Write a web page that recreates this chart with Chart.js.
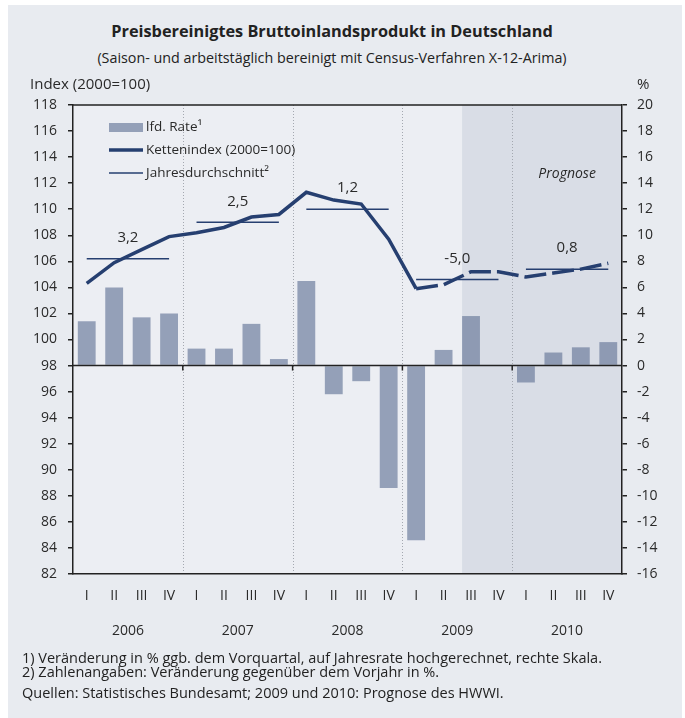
<!DOCTYPE html>
<html><head><meta charset="utf-8">
<script src="https://cdn.jsdelivr.net/npm/chart.js@4"></script>
<style>
html,body{margin:0;padding:0;background:#fff;}
body{width:685px;height:718px;position:relative;overflow:hidden;font-family:"Open Sans",sans-serif;color:#222;}
#panel{position:absolute;left:8px;top:5px;width:674px;height:713px;background:#e8ebf0;}
#chart{position:absolute;left:0;top:0;}
.t{position:absolute;white-space:nowrap;line-height:1;}
#title{left:0;width:664px;text-align:center;top:23px;font-size:16.3px;font-weight:bold;}
#subtitle{left:0;width:664px;text-align:center;top:51px;font-size:14.3px;}
.fn{left:22px;font-size:14.5px;}
</style></head>
<body>
<div id="panel"></div>
<div class="t" id="title">Preisbereinigtes Bruttoinlandsprodukt in Deutschland</div>
<div class="t" id="subtitle">(Saison- und arbeitstäglich bereinigt mit Census-Verfahren X-12-Arima)</div>
<canvas id="chart" width="685" height="718"></canvas>
<div class="t fn" style="top:651px">1) Veränderung in % ggb. dem Vorquartal, auf Jahresrate hochgerechnet, rechte Skala.</div>
<div class="t fn" style="top:665px">2) Zahlenangaben: Veränderung gegenüber dem Vorjahr in %.</div>
<div class="t fn" style="top:686px">Quellen: Statistisches Bundesamt; 2009 und 2010: Prognose des HWWI.</div>
<script>
// ---- data ----
const years = ['2006', '2007', '2008', '2009', '2010'];
const quarterNames = ['I', 'II', 'III', 'IV'];
// laufende Rate (annualisiert, %), right axis
const rate = [3.4, 6.0, 3.7, 4.0, 1.3, 1.3, 3.2, 0.5, 6.5, -2.2, -1.2, -9.4, -13.4, 1.2, 3.8, 0.0, -1.3, 1.0, 1.4, 1.8];
// Kettenindex (2000=100), left axis
const chainIndex = [104.3, 105.9, 106.9, 107.9, 108.2, 108.6, 109.4, 109.6, 111.3, 110.7, 110.4, 107.7, 103.9, 104.2, 105.2, 105.2, 104.8, 105.1, 105.4, 105.85];
// Jahresdurchschnitt (index level) and labels (growth vs previous year)
const annualAvg = [106.2, 109.0, 110.0, 104.6, 105.4];
const annualGrowth = ['3,2', '2,5', '1,2', '-5,0', '0,8'];
const leftAxis = {min: 82, max: 118, step: 2};
const rightAxis = {min: -16, max: 20, step: 2};
const forecastStart = 14;   // 2009 III
const dashedFrom = 12;      // line dashed from 2009 I
const legendLabels = ['lfd. Rate¹', 'Kettenindex (2000=100)', 'Jahresdurchschnitt²'];

const categories = years.flatMap(y => quarterNames.map(q => q + ' ' + y));
const avgSeries = categories.map((_, i) => annualAvg[Math.floor(i / quarterNames.length)]);

const NAVY = '#263f70';
const BAR = 'rgba(101,118,152,0.65)';
const TEXT = '#2a2a2a';
const BARPCT = 0.65;
const FONT = '"Open Sans"';
Chart.defaults.font.family = '"Open Sans", sans-serif';
Chart.defaults.color = TEXT;

const decor = {
  id: 'decor',
  beforeDraw(chart) {
    const {ctx, chartArea: a, scales: {x}} = chart;
    const cw = x.getPixelForValue(1) - x.getPixelForValue(0);
    ctx.save();
    ctx.fillStyle = '#eceef3';
    ctx.fillRect(a.left, a.top, a.width, a.height);
    const sx = x.getPixelForValue(forecastStart) - cw * BARPCT / 2;
    ctx.fillStyle = '#d9dde6';
    ctx.fillRect(sx, a.top, a.right - sx, a.height);
    ctx.strokeStyle = '#a4a8b0';
    ctx.lineWidth = 1;
    ctx.setLineDash([1, 2]);
    for (let i = 1; i < years.length; i++) {
      const px = Math.round(x.getPixelForValue(i * 4) - cw / 2) + 0.5;
      ctx.beginPath(); ctx.moveTo(px, a.top); ctx.lineTo(px, a.bottom); ctx.stroke();
    }
    ctx.restore();
  },
  afterDatasetsDraw(chart) {
    const {ctx, chartArea: a, scales: {x, yL, yR}} = chart;
    const cw = x.getPixelForValue(1) - x.getPixelForValue(0);
    ctx.save();
    // zero line + top frame
    const y0 = yR.getPixelForValue(0);
    ctx.strokeStyle = '#222'; ctx.lineWidth = 1.5;
    ctx.beginPath(); ctx.moveTo(a.left, y0); ctx.lineTo(a.right, y0); ctx.stroke();
    ctx.beginPath(); ctx.moveTo(a.left, a.top); ctx.lineTo(a.right, a.top); ctx.stroke();
    for (let i = 1; i < years.length; i++) {
      const px = x.getPixelForValue(i * 4) - cw / 2;
      ctx.beginPath(); ctx.moveTo(px, y0); ctx.lineTo(px, y0 + 5); ctx.stroke();
    }
    // legend
    const lx = a.left + 36, lw = 34;
    ctx.fillStyle = BAR;
    ctx.fillRect(lx, a.top + 18, lw, 9);
    ctx.strokeStyle = NAVY;
    ctx.lineWidth = 3.5;
    ctx.beginPath(); ctx.moveTo(lx, a.top + 45); ctx.lineTo(lx + lw, a.top + 45); ctx.stroke();
    ctx.lineWidth = 1.5;
    ctx.beginPath(); ctx.moveTo(lx, a.top + 68); ctx.lineTo(lx + lw, a.top + 68); ctx.stroke();
    ctx.fillStyle = TEXT;
    ctx.font = '13.5px ' + FONT;
    ctx.textBaseline = 'middle';
    ctx.textAlign = 'left';
    ctx.fillText(legendLabels[0], lx + lw + 3, a.top + 22);
    ctx.fillText(legendLabels[1], lx + lw + 3, a.top + 45);
    ctx.fillText(legendLabels[2], lx + lw + 3, a.top + 68);
    // growth labels
    ctx.font = '15px ' + FONT;
    ctx.textAlign = 'center';
    years.forEach((yr, i) => {
      const cx = (x.getPixelForValue(i * 4) + x.getPixelForValue(i * 4 + 3)) / 2;
      ctx.fillText(annualGrowth[i], cx, yL.getPixelForValue(annualAvg[i]) - 21);
    });
    // Prognose
    ctx.font = 'italic 14px ' + FONT;
    const pc = (x.getPixelForValue(16) + x.getPixelForValue(19)) / 2;
    ctx.fillText('Prognose', pc, a.top + 69);
    ctx.restore();
  },
  afterDraw(chart) {
    const {ctx, chartArea: a, scales: {x}} = chart;
    ctx.save();
    ctx.fillStyle = TEXT;
    ctx.textBaseline = 'middle';
    ctx.font = '14px ' + FONT;
    ctx.textAlign = 'center';
    years.forEach((yr, i) => {
      const cx = (x.getPixelForValue(i * 4) + x.getPixelForValue(i * 4 + 3)) / 2;
      ctx.fillText(yr, cx, a.bottom + 57);
    });
    ctx.font = '15px ' + FONT;
    ctx.textAlign = 'left';
    ctx.fillText('Index (2000=100)', 30, a.top - 20);
    ctx.fillText('%', a.right + 15, a.top - 20);
    ctx.restore();
  }
};

new Chart(document.getElementById('chart'), {
  type: 'bar',
  data: {
    labels: categories,
    datasets: [
      {
        type: 'line', label: legendLabels[1], data: chainIndex, yAxisID: 'yL', order: 1,
        borderColor: NAVY, borderWidth: 3.5, pointRadius: 0, tension: 0, fill: false,
        segment: { borderDash: c => c.p0DataIndex >= dashedFrom ? [22, 6] : undefined }
      },
      {
        type: 'line', label: legendLabels[2], data: avgSeries, yAxisID: 'yL', order: 2,
        borderColor: NAVY, borderWidth: 1.5, pointRadius: 0, tension: 0, fill: false,
        segment: { borderColor: c => Math.floor(c.p0DataIndex / 4) === Math.floor(c.p1DataIndex / 4) ? NAVY : 'rgba(0,0,0,0)' }
      },
      {
        type: 'bar', label: legendLabels[0], data: rate, yAxisID: 'yR', order: 3,
        backgroundColor: BAR, borderWidth: 0, barPercentage: BARPCT, categoryPercentage: 1.0
      }
    ]
  },
  options: {
    responsive: false, animation: false, devicePixelRatio: 1,
    layout: { padding: { left: 33, right: 0, top: 105, bottom: 104 } },
    plugins: { legend: { display: false }, tooltip: { enabled: false } },
    scales: {
      x: {
        type: 'category', offset: true,
        grid: { display: false, drawTicks: false },
        border: { display: true, color: '#222', width: 1.5 },
        ticks: { padding: 14, autoSkip: false, maxRotation: 0, color: TEXT, font: { size: 14 },
          callback: (v, i) => quarterNames[i % quarterNames.length] },
        afterFit: s => { s.height = 40; }
      },
      yL: {
        position: 'left', min: leftAxis.min, max: leftAxis.max,
        ticks: { stepSize: leftAxis.step, padding: 11, color: TEXT, font: { size: 14 } },
        grid: { drawOnChartArea: false, drawTicks: true, tickLength: 5, color: '#222', lineWidth: 1.5 },
        border: { display: true, color: '#222', width: 1.5 },
        afterFit: s => { s.width = 40; }
      },
      yR: {
        position: 'right', min: rightAxis.min, max: rightAxis.max,
        ticks: { stepSize: rightAxis.step, padding: 10, color: TEXT, font: { size: 14 } },
        grid: { drawOnChartArea: false, drawTicks: true, tickLength: 5, color: '#222', lineWidth: 1.5 },
        border: { display: true, color: '#222', width: 1.5 },
        afterFit: s => { s.width = 63; }
      }
    }
  },
  plugins: [decor]
});
</script>
</body></html>
